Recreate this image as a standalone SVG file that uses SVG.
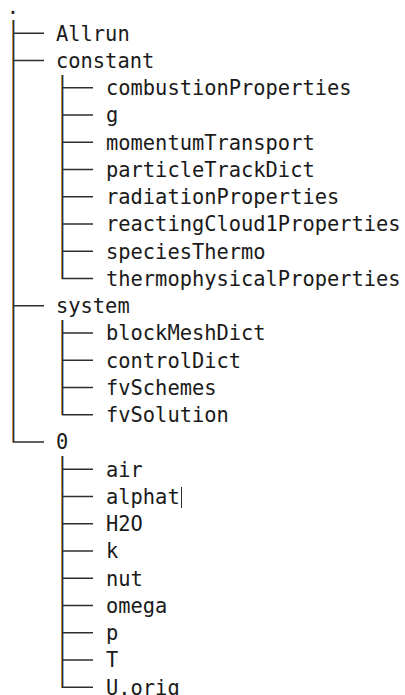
<svg xmlns="http://www.w3.org/2000/svg" width="405" height="695" viewBox="0 0 405 695">
<style>
text{font-family:"DejaVu Sans Mono","Liberation Mono",monospace;font-size:20.4px;fill:#1a1a1a}
.h{stroke:#2e2e2e;stroke-width:1.4;fill:none}
.vd{stroke:#2e2e2e;stroke-width:1;fill:none}
.vo{stroke:#c98a3c;stroke-width:1;fill:none}
.vb{stroke:#84b4e2;stroke-width:1;fill:none}
</style>
<rect width="405" height="695" fill="#ffffff"/>
<g id="connectors">
<path class="vo" d="M12.5 20V442.5M61.5 75V279M61.5 320V415M61.5 456V688"/>
<path class="vb" d="M14.5 20V441.5M63.5 75V278M63.5 320V414M63.5 456V687"/>
<path class="vd" d="M13.5 20V442M62.5 75V278.5M62.5 320V414.5M62.5 456V687.5"/>
<path class="h" d="M13 33.3H44M13 60.55H44M13 305.8H44M13 442.05H44"/>
<path class="h" d="M62 87.8H93M62 115.05H93M62 142.3H93M62 169.55H93M62 196.8H93M62 224.05H93M62 251.3H93M62 278.55H93"/>
<path class="h" d="M62 333.05H93M62 360.3H93M62 387.55H93M62 414.8H93"/>
<path class="h" d="M62 469.3H93M62 496.55H93M62 523.8H93M62 551.05H93M62 578.3H93M62 605.55H93M62 632.8H93M62 660.05H93M62 687.3H93"/>
</g>
<g id="root"><text x="6.8" y="14">.</text></g>
<g id="Allrun"><text x="56" y="40.6">Allrun</text></g>
<g id="constant"><text x="56" y="67.85">constant</text></g>
<g id="combustionProperties"><text x="106" y="95.1">combustionProperties</text></g>
<g id="g"><text x="106" y="122.35">g</text></g>
<g id="momentumTransport"><text x="106" y="149.6">momentumTransport</text></g>
<g id="particleTrackDict"><text x="106" y="176.85">particleTrackDict</text></g>
<g id="radiationProperties"><text x="106" y="204.1">radiationProperties</text></g>
<g id="reactingCloud1Properties"><text x="106" y="231.35">reactingCloud1Properties</text></g>
<g id="speciesThermo"><text x="106" y="258.6">speciesThermo</text></g>
<g id="thermophysicalProperties"><text x="106" y="285.85">thermophysicalProperties</text></g>
<g id="system"><text x="56" y="313.1">system</text></g>
<g id="blockMeshDict"><text x="106" y="340.35">blockMeshDict</text></g>
<g id="controlDict"><text x="106" y="367.6">controlDict</text></g>
<g id="fvSchemes"><text x="106" y="394.85">fvSchemes</text></g>
<g id="fvSolution"><text x="106" y="422.1">fvSolution</text></g>
<g id="dir0"><text x="56" y="449.35">0</text></g>
<g id="air"><text x="106" y="476.6">air</text></g>
<g id="alphat"><text x="106" y="503.85">alphat</text><path d="M181.5 487V508" stroke="#2e2e2e" stroke-width="1"/></g>
<g id="H2O"><text x="106" y="531.1">H2O</text></g>
<g id="k"><text x="106" y="558.35">k</text></g>
<g id="nut"><text x="106" y="585.6">nut</text></g>
<g id="omega"><text x="106" y="612.85">omega</text></g>
<g id="p"><text x="106" y="640.1">p</text></g>
<g id="T"><text x="106" y="667.35">T</text></g>
<g id="U.orig"><text x="106" y="694.6">U.orig</text></g>
</svg>
